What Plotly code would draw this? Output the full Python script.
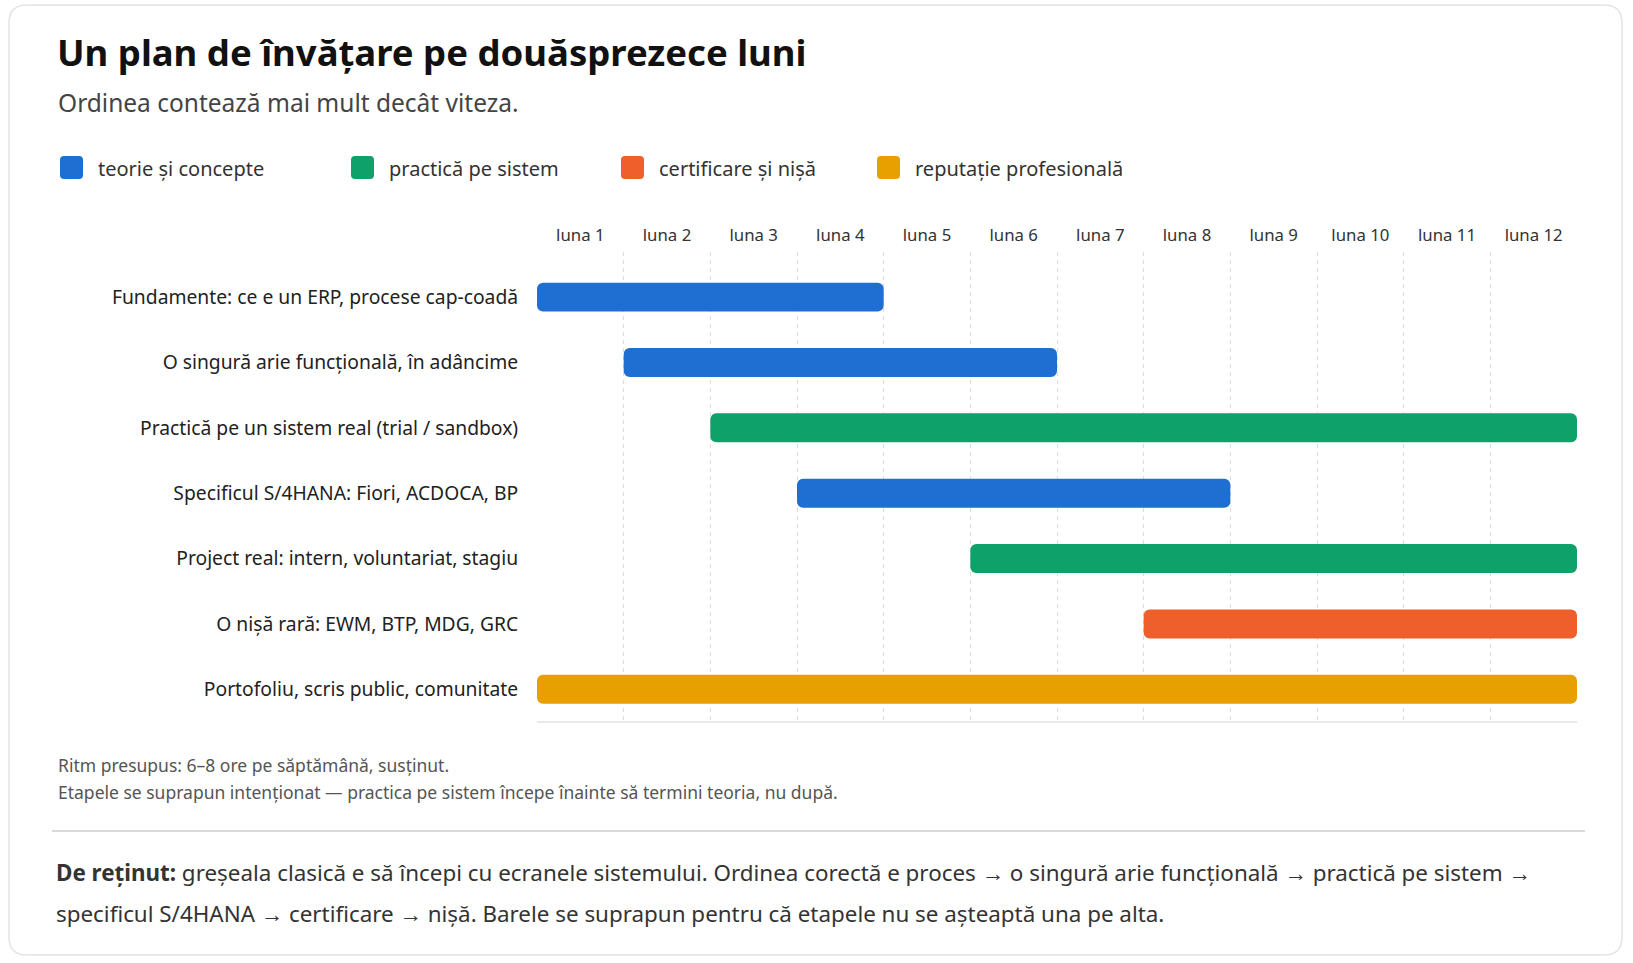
import plotly.graph_objects as go

# --- data ---
tasks = [
    "Fundamente: ce e un ERP, procese cap-coadă",
    "O singură arie funcțională, în adâncime",
    "Practică pe un sistem real (trial / sandbox)",
    "Specificul S/4HANA: Fiori, ACDOCA, BP",
    "Project real: intern, voluntariat, stagiu",
    "O nișă rară: EWM, BTP, MDG, GRC",
    "Portofoliu, scris public, comunitate",
]
start_month = [0, 1, 2, 3, 5, 7, 0]
end_month = [4, 6, 12, 8, 12, 12, 12]
task_kind = [0, 0, 1, 0, 1, 2, 3]

kinds = ["teorie și concepte", "practică pe sistem", "certificare și nișă", "reputație profesională"]
kind_colors = ["#1f6fd3", "#0ea26a", "#ee5f2b", "#e89f00"]

months = [f"luna {i}" for i in range(1, 13)]

# --- pixel helpers (plot area in px) ---
W, H = 1633, 963
L, R, T, B = 537, 1577, 252, 722


def fx(px):
    return (px - L) / (R - L)


def fy(py):
    return (B - py) / (B - T)


def rounded_path(x0, y0, x1, y1, r):
    # rounded rectangle in pixels -> paper path
    pts = [
        f"M{fx(x0 + r)},{fy(y0)}",
        f"L{fx(x1 - r)},{fy(y0)}",
        f"Q{fx(x1)},{fy(y0)} {fx(x1)},{fy(y0 + r)}",
        f"L{fx(x1)},{fy(y1 - r)}",
        f"Q{fx(x1)},{fy(y1)} {fx(x1 - r)},{fy(y1)}",
        f"L{fx(x0 + r)},{fy(y1)}",
        f"Q{fx(x0)},{fy(y1)} {fx(x0)},{fy(y1 - r)}",
        f"L{fx(x0)},{fy(y0 + r)}",
        f"Q{fx(x0)},{fy(y0)} {fx(x0 + r)},{fy(y0)}",
        "Z",
    ]
    return " ".join(pts)


FONT = "Noto Sans"

fig = go.Figure()
fig.add_trace(go.Bar(
    y=tasks,
    x=[e - s for s, e in zip(start_month, end_month)],
    base=start_month,
    orientation="h",
    marker=dict(color=[kind_colors[k] for k in task_kind], cornerradius=6, line=dict(width=0)),
    hovertemplate="%{y}<br>luna %{base} – %{x}<extra></extra>",
    showlegend=False,
))

shapes = [
    # card
    dict(type="path", xref="paper", yref="paper", path=rounded_path(9, 5, 1622, 955, 18),
         line=dict(color="#e4e4e4", width=1.5), fillcolor="rgba(0,0,0,0)", layer="below"),
    # bottom axis line
    dict(type="line", xref="paper", yref="paper", x0=0, x1=1, y0=0, y1=0,
         line=dict(color="#e2e2e2", width=1.5)),
    # separator
    dict(type="line", xref="paper", yref="paper", x0=fx(52), x1=fx(1585), y0=fy(831), y1=fy(831),
         line=dict(color="#d9d9d9", width=2)),
]

annotations = [
    dict(text="<b>Un plan de învățare pe douăsprezece luni</b>", x=fx(55), y=fy(52),
         font=dict(size=36.5, color="#111111", family=FONT)),
    dict(text="Ordinea contează mai mult decât viteza.", x=fx(56), y=fy(102),
         font=dict(size=24.5, color="#444444", family=FONT)),
    dict(text="Ritm presupus: 6–8 ore pe săptămână, susținut.", x=fx(56), y=fy(765),
         font=dict(size=17.5, color="#555555", family=FONT)),
    dict(text="Etapele se suprapun intenționat — practica pe sistem începe înainte să termini teoria, nu după.",
         x=fx(56), y=fy(792), font=dict(size=17.5, color="#555555", family=FONT)),
    dict(text="<b>De reținut:</b> greșeala clasică e să începi cu ecranele sistemului. Ordinea corectă e proces → "
              "o singură arie funcțională → practică pe sistem →",
         x=fx(54), y=fy(872), font=dict(size=22.4, color="#333333", family=FONT)),
    dict(text="specificul S/4HANA → certificare → nișă. Barele se suprapun pentru că etapele nu se așteaptă una pe alta.",
         x=fx(54), y=fy(913), font=dict(size=22.4, color="#333333", family=FONT)),
]

# legend drawn by hand (large rounded swatches)
legend_sq_x = [60, 351, 621, 877]
for i, (name, col) in enumerate(zip(kinds, kind_colors)):
    sx = legend_sq_x[i]
    shapes.append(dict(type="path", xref="paper", yref="paper",
                       path=rounded_path(sx, 156, sx + 23, 179, 4),
                       fillcolor=col, line=dict(width=0)))
    annotations.append(dict(text=name, x=fx(sx + 36), y=fy(168),
                            font=dict(size=20, color="#333333", family=FONT)))

for a in annotations:
    a.update(xref="paper", yref="paper", xanchor="left", yanchor="middle", showarrow=False)

fig.update_layout(
    width=W, height=H,
    margin=dict(l=L, r=W - R, t=T, b=H - B),
    paper_bgcolor="white", plot_bgcolor="white",
    font=dict(family=FONT, color="#333333"),
    bargap=0.557,
    shapes=shapes,
    annotations=annotations,
    showlegend=False,
    xaxis=dict(
        range=[0, 12], side="top",
        tickmode="array", tickvals=[i + 0.5 for i in range(12)], ticktext=months,
        tickfont=dict(size=16.8, color="#333333"),
        ticks="outside", ticklen=3, tickcolor="rgba(0,0,0,0)",
        showgrid=False, zeroline=False, showline=False,
        minor=dict(tickmode="array", tickvals=list(range(13)), showgrid=True,
                   gridcolor="#dcdcdc", griddash="4px,4px", gridwidth=1, ticks=""),
        fixedrange=True,
    ),
    yaxis=dict(
        type="category", categoryorder="array", categoryarray=tasks,
        range=[6.5, -0.69],
        tickfont=dict(size=19.3, color="#222222"),
        ticks="outside", ticklen=14, tickcolor="rgba(0,0,0,0)",
        showgrid=False, zeroline=False, showline=False,
        fixedrange=True,
    ),
)

# drop the default page margin so the figure sits at the window's top-left corner
fig.write_html("out.html", config={"displayModeBar": False},
               post_script="document.body.style.margin='0';")
